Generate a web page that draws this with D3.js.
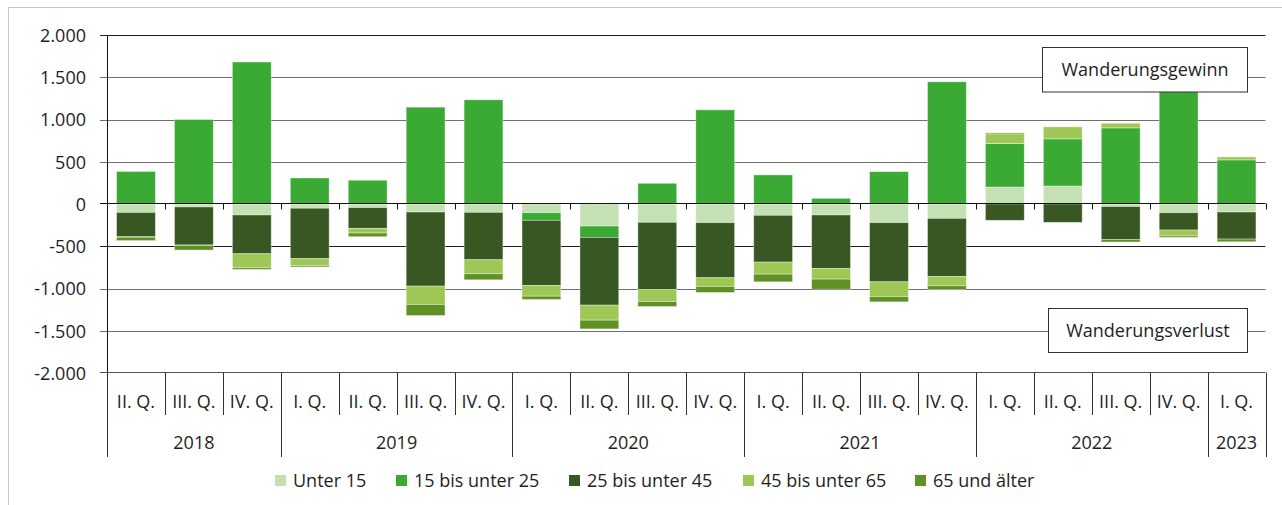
<!DOCTYPE html>
<html>
<head>
<meta charset="utf-8">
<script src="https://cdn.jsdelivr.net/npm/d3@7"></script>
<style>
  html, body { margin: 0; padding: 0; background: #fff; }
  svg { display: block; }
  text { font-family: "Open Sans", "Noto Sans", sans-serif; font-size: 18px; fill: #1e1e1e; }
</style>
</head>
<body>
<svg id="chart" width="1282" height="505"></svg>
<script>
// ---------- data ----------
const quarters = ["II. Q.","III. Q.","IV. Q.",
  "I. Q.","II. Q.","III. Q.","IV. Q.",
  "I. Q.","II. Q.","III. Q.","IV. Q.",
  "I. Q.","II. Q.","III. Q.","IV. Q.",
  "I. Q.","II. Q.","III. Q.","IV. Q.",
  "I. Q."];
const years = ["2018","2019","2020","2021","2022","2023"];
const yearSpans = [3, 4, 4, 4, 4, 1];
const seriesNames = ["Unter 15","15 bis unter 25","25 bis unter 45","45 bis unter 65","65 und älter"];
const seriesColors = ["#c5e0b3","#3aaa35","#385723","#9fc755","#5f9125"];

const unter15   = [-100, -35, -130, -50, -43, -95, -99, -103, -261, -217, -221, -134, -130, -221, -170, 201, 213, -30, -103, -95];
const bis25     = [385, 1000, 1680, 308, 281, 1146, 1233, -90, -134, 245, 1114, 344, 67, 383, 1446, 514, 558, 901, 1380, 522];
const bis45     = [-288, -450, -459, -597, -245, -877, -561, -771, -802, -795, -652, -554, -633, -700, -688, -193, -217, -389, -205, -320];
const bis65     = [-5, -5, -166, -83, -56, -217, -166, -127, -178, -142, -103, -142, -126, -174, -110, 115, 142, 55, -71, 35];
const ab65      = [-40, -55, -19, -15, -43, -131, -71, -39, -103, -59, -71, -91, -119, -63, -44, 12, 0, -31, -16, -32];

const yTicks = [-2000, -1500, -1000, -500, 0, 500, 1000, 1500, 2000];

// ---------- build ----------
(function () {
const seriesData = [unter15, bis25, bis45, bis65, ab65];
const rows = quarters.map((q, i) => {
  const r = { idx: i };
  seriesNames.forEach((s, k) => r[s] = seriesData[k][i]);
  return r;
});

const svg = d3.select("#chart");
const pL = 107, pR = 1265.5, pT = 35, pB = 373;

const x = d3.scaleBand().domain(d3.range(quarters.length)).range([pL, pR])
  .paddingInner(0.33).paddingOuter(0.165);
const step = x.step();
const y = d3.scaleLinear().domain([-2000, 2000]).range([pB, pT]);

const de = d3.formatLocale({ decimal: ",", thousands: ".", grouping: [3], currency: ["", " €"], minus: "-" });
const fmt = de.format(",d");

// outer frame
svg.append("rect").attr("x", 8.5).attr("y", 7.5).attr("width", 1290).attr("height", 520)
  .attr("fill", "none").attr("stroke", "#c8c8c8").attr("stroke-width", 1);

// gridlines
const snap = v => Math.round(v) + 0.5;
svg.append("g").selectAll("line").data(yTicks.filter(d => d !== 0 && d !== -2000)).join("line")
  .attr("x1", 100).attr("x2", pR)
  .attr("y1", d => snap(y(d))).attr("y2", d => snap(y(d)))
  .attr("stroke", d => (d === 2000 || d === -500) ? "#1e1e1e" : "#6f6f6f").attr("stroke-width", 1);

// y axis via d3
const yAxis = d3.axisLeft(y).tickValues(yTicks).tickFormat(fmt).tickSize(0).tickPadding(21);
const yg = svg.append("g").attr("transform", `translate(${pL},0)`).call(yAxis);
yg.select(".domain").remove();
yg.selectAll("text").style("font-family", "'Open Sans', sans-serif").style("font-size", "18px")
  .attr("fill", "#1e1e1e").attr("dy", "0.36em");

// bars
const stack = d3.stack().keys(seriesNames).offset(d3.stackOffsetDiverging);
const stacked = stack(rows);
svg.append("g").selectAll("g").data(stacked).join("g")
  .attr("fill", (d, k) => seriesColors[k])
  .selectAll("rect").data(d => d).join("rect")
  .attr("x", (d, i) => x(i))
  .attr("width", x.bandwidth())
  .attr("y", d => y(Math.max(d[0], d[1])))
  .attr("height", d => Math.abs(y(d[0]) - y(d[1])))
  .attr("stroke", "rgba(255,255,255,0.45)").attr("stroke-width", 0.8);

// y axis line
svg.append("line").attr("x1", pL + 0.5).attr("x2", pL + 0.5).attr("y1", pT).attr("y2", pB)
  .attr("stroke", "#111").attr("stroke-width", 1);

// zero line + ticks
const y0 = snap(y(0)) - 1;
svg.append("line").attr("x1", 100).attr("x2", pR).attr("y1", y0).attr("y2", y0)
  .attr("stroke", "#111").attr("stroke-width", 1.2);
svg.append("g").selectAll("line").data(d3.range(quarters.length + 1)).join("line")
  .attr("x1", i => Math.round(pL + i * step) + 0.5).attr("x2", i => Math.round(pL + i * step) + 0.5)
  .attr("y1", y0).attr("y2", y0 + 6).attr("stroke", "#111").attr("stroke-width", 1);

// bottom axis line
const yb = snap(y(-2000)) - 1;
svg.append("line").attr("x1", 100).attr("x2", pR).attr("y1", yb).attr("y2", yb)
  .attr("stroke", "#555").attr("stroke-width", 1);

// quarter separators
const yearStarts = [];
let acc = 0;
yearSpans.forEach(s => { yearStarts.push(acc); acc += s; });
yearStarts.push(acc);
svg.append("g").selectAll("line").data(d3.range(quarters.length + 1)).join("line")
  .attr("x1", i => Math.round(pL + i * step) + 0.5).attr("x2", i => Math.round(pL + i * step) + 0.5)
  .attr("y1", yb).attr("y2", i => yearStarts.includes(i) ? 457 : 415)
  .attr("stroke", "#333").attr("stroke-width", 1);

// quarter labels
svg.append("g").selectAll("text").data(quarters).join("text")
  .attr("x", (d, i) => pL + (i + 0.5) * step).attr("y", 408)
  .attr("text-anchor", "middle").text(d => d);

// year labels
svg.append("g").selectAll("text").data(years).join("text")
  .attr("x", (d, k) => pL + (yearStarts[k] + yearSpans[k] / 2) * step).attr("y", 449)
  .attr("text-anchor", "middle").text(d => d);

// annotation boxes
const boxes = [
  { text: "Wanderungsgewinn", x: 1042.5, y: 47.5, w: 205, h: 44.5 },
  { text: "Wanderungsverlust", x: 1048.5, y: 308.5, w: 199, h: 44 }
];
const bg = svg.append("g").selectAll("g").data(boxes).join("g");
bg.append("rect").attr("x", d => d.x).attr("y", d => d.y).attr("width", d => d.w).attr("height", d => d.h)
  .attr("fill", "#fff").attr("stroke", "#333").attr("stroke-width", 1);
bg.append("text").attr("x", d => d.x + d.w / 2).attr("y", d => d.y + d.h / 2 + 6.5)
  .attr("text-anchor", "middle").text(d => d.text);

// legend
const legX = [275, 396, 569, 743, 915];
const lg = svg.append("g").selectAll("g").data(seriesNames).join("g")
  .attr("transform", (d, k) => `translate(${legX[k]},0)`);
lg.append("rect").attr("x", 0).attr("y", 475).attr("width", 11).attr("height", 11)
  .attr("fill", (d, k) => seriesColors[k]);
lg.append("text").attr("x", 18).attr("y", 487).text(d => d);
})();
</script>
</body>
</html>
